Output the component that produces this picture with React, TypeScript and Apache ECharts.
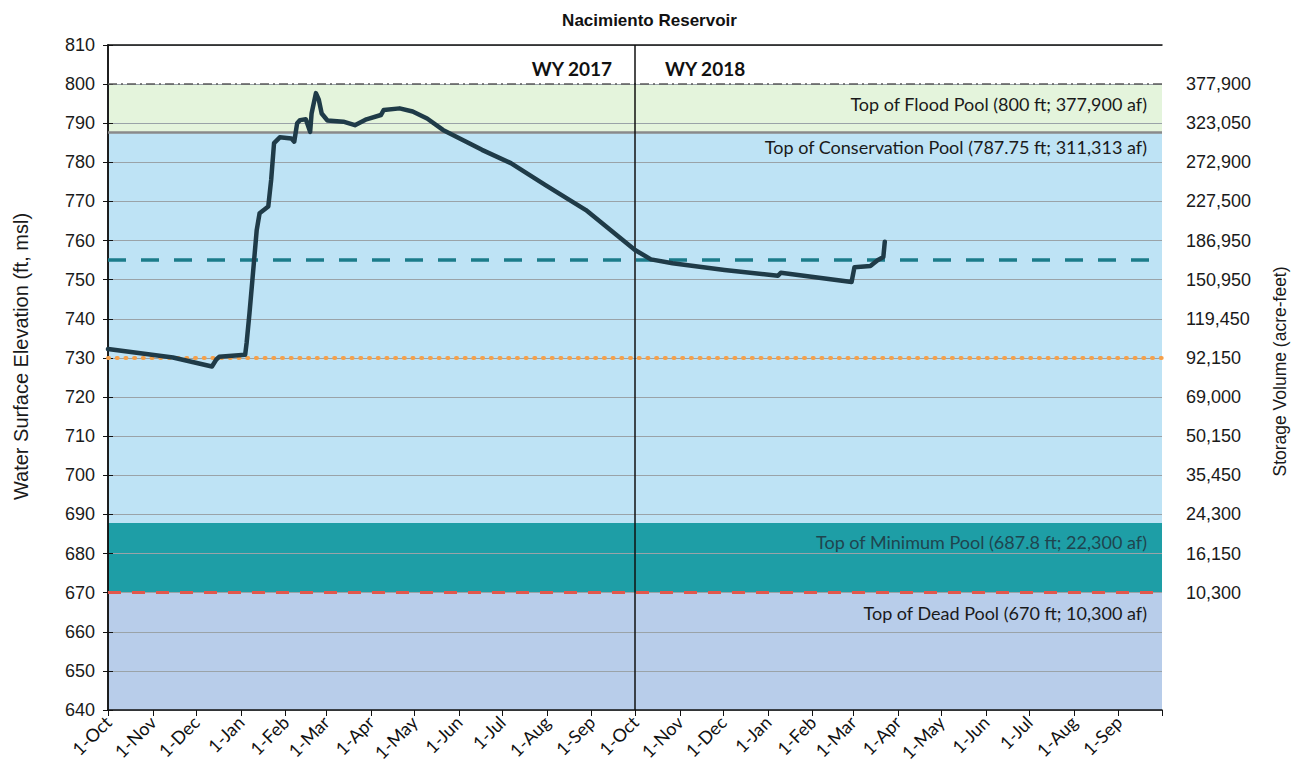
import React, { useEffect, useRef } from 'react';
import * as echarts from 'echarts';

const TITLE = 'Nacimiento Reservoir';
const START_DATE = '2016-10-01';
const END_DATE = '2018-10-01';

const monthTickDates = [
  '2016-10-01', '2016-11-01', '2016-12-01', '2017-01-01', '2017-02-01', '2017-03-01',
  '2017-04-01', '2017-05-01', '2017-06-01', '2017-07-01', '2017-08-01', '2017-09-01',
  '2017-10-01', '2017-11-01', '2017-12-01', '2018-01-01', '2018-02-01', '2018-03-01',
  '2018-04-01', '2018-05-01', '2018-06-01', '2018-07-01', '2018-08-01', '2018-09-01',
  '2018-10-01',
];
const monthTickLabels = [
  '1-Oct', '1-Nov', '1-Dec', '1-Jan', '1-Feb', '1-Mar', '1-Apr', '1-May', '1-Jun', '1-Jul', '1-Aug', '1-Sep',
  '1-Oct', '1-Nov', '1-Dec', '1-Jan', '1-Feb', '1-Mar', '1-Apr', '1-May', '1-Jun', '1-Jul', '1-Aug', '1-Sep',
  '',
];

const elevDates = [
  '2016-10-01', '2016-11-15', '2016-12-12', '2016-12-15', '2016-12-17', '2017-01-04',
  '2017-01-05', '2017-01-07', '2017-01-09', '2017-01-12', '2017-01-14', '2017-01-20',
  '2017-01-22', '2017-01-24', '2017-01-28', '2017-02-05', '2017-02-07', '2017-02-09',
  '2017-02-11', '2017-02-15', '2017-02-18', '2017-02-19', '2017-02-22', '2017-02-24',
  '2017-02-26', '2017-03-02', '2017-03-13', '2017-03-21', '2017-03-29', '2017-04-08',
  '2017-04-10', '2017-04-21', '2017-04-30', '2017-05-10', '2017-05-21', '2017-06-17',
  '2017-07-07', '2017-07-31', '2017-08-28', '2017-10-01', '2017-10-12', '2017-10-27',
  '2017-12-02', '2018-01-08', '2018-01-10', '2018-02-28', '2018-03-02', '2018-03-13',
  '2018-03-18', '2018-03-22', '2018-03-23',
];
const elevValues = [
  732.3, 730.1, 727.8, 729.6, 730.3, 730.8,
  733.8, 741.5, 749.9, 762.7, 767.0, 768.7,
  775.5, 784.9, 786.4, 786.1, 785.3, 790.0,
  790.8, 791.0, 787.8, 792.5, 797.7, 796.0,
  792.5, 790.7, 790.4, 789.5, 791.0, 792.1,
  793.4, 793.8, 793.0, 791.2, 788.3, 783.2,
  779.8, 774.2, 767.8, 757.6, 755.2, 754.2,
  752.5, 751.0, 751.8, 749.4, 753.2, 753.5,
  755.0, 755.8, 759.7,
];

const storageTickElev = [800, 790, 780, 770, 760, 750, 740, 730, 720, 710, 700, 690, 680, 670];
const storageTickLabels = [
  '377,900', '323,050', '272,900', '227,500', '186,950', '150,950', '119,450',
  '92,150', '69,000', '50,150', '35,450', '24,300', '16,150', '10,300',
];

const bandTops = [800, 787.75, 687.8, 670];
const bandBottoms = [787.75, 687.8, 670, 640];
const bandLabels = [
  'Top of Flood Pool (800 ft; 377,900 af)',
  'Top of Conservation Pool (787.75 ft; 311,313 af)',
  'Top of Minimum Pool (687.8 ft; 22,300 af)',
  'Top of Dead Pool (670 ft; 10,300 af)',
];

const waterYearLabels = ['WY 2017', 'WY 2018'];
const waterYearDivider = '2017-10-01';
const yMin = 640;
const yMax = 810;
const targetLevel = 755;
const orangeLevel = 730;

const dayOf = (d: string) => (Date.parse(d) - Date.parse(START_DATE)) / 86400000;

export default function App() {
  const ref = useRef<HTMLDivElement>(null);

  useEffect(() => {
    if (!ref.current) return;
    const chart = echarts.init(ref.current, undefined, { renderer: 'svg' });

    const tickDays = monthTickDates.map(dayOf);
    const labelByDay: Record<number, string> = {};
    tickDays.forEach((d, i) => (labelByDay[d] = monthTickLabels[i]));
    const storageByElev: Record<number, string> = {};
    storageTickElev.forEach((e, i) => (storageByElev[e] = storageTickLabels[i]));
    const maxDay = dayOf(END_DATE);
    const divDay = dayOf(waterYearDivider);

    const lineData = elevDates.map((d, i) => [dayOf(d), elevValues[i]]);

    const bandColors = ['#e4f4dc', '#bee3f5', '#1e9ea6', '#b8cdea'];
    const bandLabelOffsets = [
      { position: 'insideRight', offset: [-10, -4] },
      { position: 'insideTopRight', offset: [-10, 1] },
      { position: 'insideTopRight', offset: [-10, 5] },
      { position: 'insideTopRight', offset: [-10, 6] },
    ];
    const bandLabelColors = ['#1a1a1a', '#1a1a1a', '#1f454f', '#1a1a1a'];

    const bandAreas: any[] = bandTops.map((top, i) => [
      {
        yAxis: bandBottoms[i],
        name: bandLabels[i],
        itemStyle: { color: bandColors[i], opacity: 1 },
        label: {
          show: true,
          position: bandLabelOffsets[i].position,
          offset: bandLabelOffsets[i].offset,
          distance: 5,
          color: bandLabelColors[i],
          fontFamily: 'Lato',
          fontSize: 18,
        },
      },
      { yAxis: top },
    ]);
    const wyAreas: any[] = [
      [
        {
          xAxis: 0,
          yAxis: bandTops[0],
          name: waterYearLabels[0],
          itemStyle: { color: 'rgba(0,0,0,0)' },
          label: {
            show: true,
            position: 'insideRight',
            offset: [-18, 4],
            color: '#111',
            fontFamily: 'Lato',
            fontWeight: 'bold',
            fontSize: 19,
          },
        },
        { xAxis: divDay, yAxis: yMax },
      ],
      [
        {
          xAxis: divDay,
          yAxis: bandTops[0],
          name: waterYearLabels[1],
          itemStyle: { color: 'rgba(0,0,0,0)' },
          label: {
            show: true,
            position: 'insideLeft',
            offset: [25, 4],
            color: '#111',
            fontFamily: 'Lato',
            fontWeight: 'bold',
            fontSize: 19,
          },
        },
        { xAxis: maxDay, yAxis: yMax },
      ],
    ];

    const axisFont = { fontFamily: 'Liberation Sans', fontSize: 18, color: '#1a1a1a' };

    chart.setOption({
      animation: false,
      backgroundColor: '#ffffff',
      title: {
        text: TITLE,
        left: 'center',
        top: 7,
        textStyle: { fontFamily: 'Liberation Sans', fontWeight: 'bold', fontSize: 17, color: '#111' },
      },
      grid: { left: 108, right: 137, top: 45, bottom: 72 },
      xAxis: [
        {
          type: 'value',
          min: 0,
          max: maxDay,
          z: 3,
          axisLine: { show: true, onZero: false, lineStyle: { color: '#111', width: 1.5 } },
          axisTick: { show: true, customValues: tickDays, length: 6, lineStyle: { color: '#111' } },
          axisLabel: {
            show: true,
            customValues: tickDays.slice(0, -1),
            rotate: 45,
            margin: 9,
            fontFamily: 'Lato',
            fontSize: 18,
            color: '#111',
            formatter: (v: number) => labelByDay[Math.round(v)] ?? '',
          },
          splitLine: { show: false },
        },
        {
          type: 'value',
          min: 0,
          max: maxDay,
          position: 'top',
          z: 3,
          axisLine: { show: true, onZero: false, lineStyle: { color: '#111', width: 1.5 } },
          axisTick: { show: false },
          axisLabel: { show: false },
          splitLine: { show: false },
        },
      ],
      yAxis: [
        {
          type: 'value',
          min: yMin,
          max: yMax,
          interval: 10,
          z: 2,
          name: 'Water Surface Elevation (ft, msl)',
          nameLocation: 'middle',
          nameGap: 77,
          nameRotate: 90,
          nameTextStyle: {
            fontFamily: 'Liberation Sans',
            fontSize: 20,
            color: '#1a1a1a',
            padding: [0, 0, 0, 42],
          },
          axisLine: { show: true, lineStyle: { color: '#111', width: 1.5 } },
          axisTick: { show: true, length: 5, lineStyle: { color: '#111' } },
          axisLabel: { ...axisFont, margin: 13 },
          splitLine: { show: true, lineStyle: { color: '#9aa3a8', width: 1 } },
        },
        {
          type: 'value',
          min: yMin,
          max: yMax,
          interval: 10,
          position: 'right',
          z: 3,
          name: 'Storage Volume (acre-feet)',
          nameLocation: 'middle',
          nameGap: 109,
          nameRotate: 90,
          nameTextStyle: {
            fontFamily: 'Liberation Sans',
            fontSize: 17.5,
            color: '#1a1a1a',
            padding: [0, 0, 0, 12],
          },
          axisLine: { show: true, lineStyle: { color: '#111', width: 1.5 } },
          axisTick: { show: true, length: 5, lineStyle: { color: '#111' } },
          axisLabel: {
            ...axisFont,
            margin: 24,
            formatter: (v: number) => storageByElev[Math.round(v)] ?? '',
          },
          splitLine: { show: false },
        },
      ],
      series: [
        {
          name: 'bands',
          type: 'line',
          z: 1,
          silent: true,
          data: lineData,
          symbol: 'none',
          lineStyle: { opacity: 0 },
          markArea: { silent: true, data: [...bandAreas, ...wyAreas] },
        },
        {
          name: 'levels',
          type: 'line',
          z: 4,
          silent: true,
          data: lineData,
          symbol: 'none',
          lineStyle: { opacity: 0 },
          markLine: {
            silent: true,
            symbol: ['none', 'none'],
            label: { show: false },
            data: [
              { yAxis: bandTops[0], lineStyle: { color: '#5c5c5c', width: 1.6, type: [9, 4, 2, 4] } },
              { yAxis: bandTops[1], lineStyle: { color: '#8a8a8a', width: 2.5, type: 'solid' } },
              { yAxis: targetLevel, lineStyle: { color: '#1b7c8a', width: 3.5, type: [18, 15] } },
              { yAxis: orangeLevel, lineStyle: { color: '#f5a04a', width: 4, type: [1, 7.7], cap: 'round' } },
              { yAxis: bandTops[3], lineStyle: { color: '#e2574c', width: 3, type: [13, 11] } },
              { xAxis: divDay, lineStyle: { color: '#111', width: 1.5, type: 'solid' } },
            ],
          },
        },
        {
          name: 'Water Surface Elevation',
          type: 'line',
          z: 5,
          data: lineData,
          symbol: 'none',
          lineStyle: { color: '#1f3b48', width: 4.5, join: 'round', cap: 'round' },
        },
      ],
    });

    return () => chart.dispose();
  }, []);

  return (
    <div
      ref={ref}
      style={{ position: 'absolute', left: 0, top: 0, width: 1299, height: 782 }}
    />
  );
}
